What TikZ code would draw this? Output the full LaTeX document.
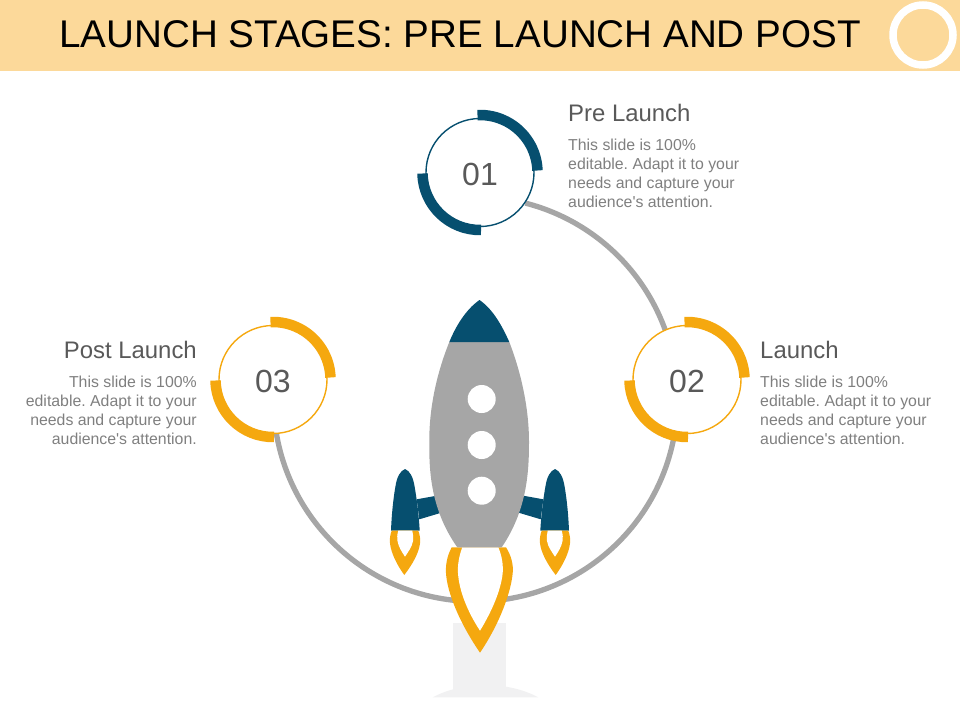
\documentclass[tikz,border=0pt]{standalone}
\usepackage{fontspec}
\setmainfont{Liberation Sans}[Ligatures=TeXOff]
\frenchspacing
\usetikzlibrary{backgrounds}
\definecolor{band}{HTML}{FCD99A}
\definecolor{navy}{HTML}{064F6F}
\definecolor{amber}{HTML}{F5A80F}
\definecolor{rock}{HTML}{A6A6A6}
\definecolor{groundgrey}{HTML}{F1F1F2}
\definecolor{headtext}{HTML}{595959}
\definecolor{bodytext}{HTML}{7F7F7F}
\tikzset{
  ringnode/.style={circle,draw=#1,fill=white,line width=1.4pt,minimum size=108pt,inner sep=0pt,
     text=headtext,font=\fontsize{32}{34}\selectfont},
  thickarc/.style={draw=#1,line width=10.5pt},
  linkarc/.style={draw=rock,line width=5.3pt},
  headleft/.style={anchor=base west,inner sep=0pt,text=headtext,font=\fontsize{23.9}{26}\selectfont},
  headright/.style={anchor=base east,inner sep=0pt,text=headtext,font=\fontsize{23.9}{26}\selectfont},
  bodyleft/.style={anchor=north west,inner sep=0pt,align=left,text=bodytext,font=\fontsize{15.85}{19}\selectfont},
  bodyright/.style={anchor=north east,inner sep=0pt,align=right,text=bodytext,font=\fontsize{15.85}{19}\selectfont},
  porthole/.style={circle,fill=white,minimum size=28pt,inner sep=0pt},
}
\newcommand{\ringarcs}[2]{%
  \draw[thickarc=#2] (#1) ++(-2:57.5) arc[start angle=-2,end angle=-92.5,radius=57.5];
  \draw[thickarc=#2] (#1) ++(-181:57.5) arc[start angle=-181,end angle=-271,radius=57.5];
}
\newcommand{\ringnum}[1]{\raisebox{-12.6pt}[0pt][0pt]{#1}}
\newcommand{\blurb}{This slide is 100\%\\editable. Adapt it to your\\needs and capture your\\audience's attention.}
\newcommand{\booster}{%
  \fill[navy] (416.7,499.3) -- (445,494.2) -- (445,511.6) -- (419.3,519.3) -- cycle;
  \fill[navy] (405,469) .. controls (400,471) and (397,477) .. (395.5,486) .. controls (393,500) and (391.5,517) .. (391,530.7) -- (419.7,530.7) .. controls (419,517) and (417,500) .. (414.5,486) .. controls (413,477) and (410,471) .. (405,469) -- cycle;
  \fill[amber] (391.7,530.7) .. controls (390,535) and (389.5,540) .. (390,543.3) .. controls (391,553) and (397,565) .. (404.3,575) .. controls (412,565) and (419,553) .. (420,543.3) .. controls (420.5,540) and (420,535) .. (418.3,530.7) -- cycle;
  \fill[white] (398.3,530.7) .. controls (397,535) and (397,538) .. (397.5,541) .. controls (398.5,547) and (402,552) .. (405,556.7) .. controls (408,552) and (412,547) .. (413,541) .. controls (413.5,537) and (413,534) .. (412.3,530.7) -- cycle;
}
\begin{document}
\begin{tikzpicture}[x=1pt,y=-1pt]
\useasboundingbox (0,0) rectangle (960,720);
% title band
\fill[band] (0,0) rectangle (960,71);
\node[anchor=base,inner sep=0pt,text=black,font=\fontsize{38.6}{40}\selectfont] (title) at (460,47) {LAUNCH STAGES: PRE LAUNCH AND POST};
\node[circle,draw=white,line width=7.5pt,minimum size=60pt,inner sep=0pt] (badge) at (923,35) {};
% ground shadow
\fill[groundgrey] (453.3,623) rectangle (505.7,690);
\fill[groundgrey] (432.7,697.3) .. controls (450,688) and (470,685) .. (485.5,685) .. controls (501,685) and (521,688) .. (538.3,697.3) -- cycle;
% rings
\node[ringnode=navy] (r01) at (480,172.5) {\ringnum{01}};
\node[ringnode=amber] (r02) at (687,379.5) {\ringnum{02}};
\node[ringnode=amber] (r03) at (273,379.5) {\ringnum{03}};
\begin{pgfonlayer}{background}
  \path[linkarc] (r01.-34.5) arc[start angle=-75.65,end angle=-19.8,radius=202];
  \path[linkarc] (r02.-103.3) arc[start angle=9.5,end angle=170.5,radius=202];
\end{pgfonlayer}
\ringarcs{r01}{navy}
\ringarcs{r02}{amber}
\ringarcs{r03}{amber}
% labels
\node[headleft] (h1) at (568,121) {Pre Launch};
\node[bodyleft] (b1) at (568,138.5) {\blurb};
\node[headleft] (h2) at (760,358) {Launch};
\node[bodyleft] (b2) at (760,375.5) {\blurb};
\node[headright] (h3) at (197,358) {Post Launch};
\node[bodyright] (b3) at (197,375.5) {\blurb};
% boosters
\booster
\begin{scope}[xshift=960pt,xscale=-1]
\booster
\end{scope}
% big flame
\fill[amber] (451.7,547.3) .. controls (447,556) and (445.5,565) .. (446,573) .. controls (447,592) and (459,622) .. (480,652.7) .. controls (500,623) and (511,592) .. (512.7,573) .. controls (513.5,565) and (511.5,556) .. (506,547.3) -- cycle;
\fill[white] (462.3,547.3) .. controls (459,556) and (457.5,565) .. (458,573) .. controls (459,590) and (467,611) .. (480,630.7) .. controls (492,611) and (501,590) .. (502.7,573) .. controls (503.3,565) and (502,556) .. (498.3,547.3) -- cycle;
% body
\fill[rock] (449.3,342) .. controls (436,375) and (429,410) .. (429.3,442) .. controls (429,472) and (431,510) .. (457.3,547.3) -- (501.7,547.3) .. controls (527,510) and (529,472) .. (529,442) .. controls (529,410) and (522,375) .. (509.3,342) -- cycle;
\fill[navy] (479.5,300) .. controls (465,310) and (455,328) .. (449.3,342) -- (509.3,342) .. controls (503,328) and (494,310) .. (479.5,300) -- cycle;
\node[porthole] (w1) at (481.7,399) {};
\node[porthole] (w2) at (481.7,445) {};
\node[porthole] (w3) at (481.7,490.7) {};
\end{tikzpicture}
\end{document}
